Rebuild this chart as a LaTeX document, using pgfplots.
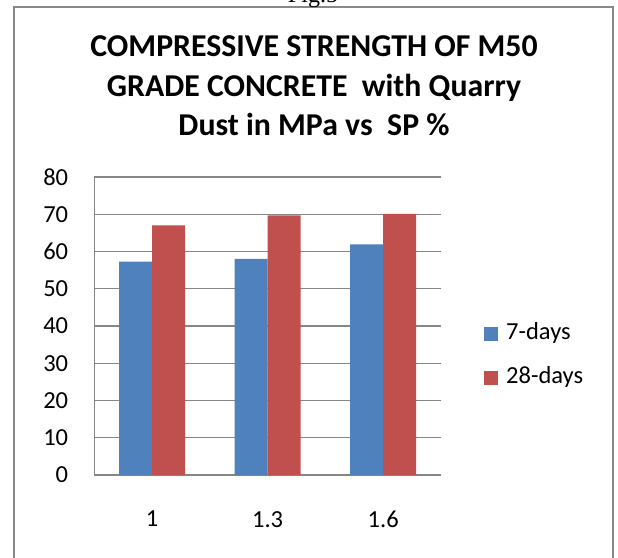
\documentclass[border=0pt]{standalone}
\usepackage{pgfplots}
\pgfplotsset{compat=1.18}
\usepackage{fontspec}
\setmainfont{Carlito}
\newfontfamily\seriffont{Liberation Serif}
\definecolor{barblue}{RGB}{79,129,189}
\definecolor{barred}{RGB}{192,80,77}
\definecolor{gridgray}{RGB}{134,134,134}
\definecolor{bordergray}{RGB}{136,136,136}
\begin{document}
\begin{tikzpicture}[x=1pt,y=1pt]
\clip (0,0) rectangle (618,557);
\fill[white] (0,0) rectangle (618,557);
% outer border (cut at bottom)
\draw[bordergray, line width=2pt] (14,-5) -- (14,549.5) -- (613,549.5) -- (613,-5);
% "Fig.5" caption, mostly cut off at top
\node[anchor=base, inner sep=0pt, font=\seriffont\fontsize{24}{28}\selectfont] at (313,554) {Fig.5};
% title
\node[anchor=base, inner sep=0pt, font=\bfseries\fontsize{31.8}{36}\selectfont] at (314,500) {COMPRESSIVE STRENGTH OF M50};
\node[anchor=base, inner sep=0pt, font=\bfseries\fontsize{31.8}{36}\selectfont] at (314,460) {GRADE CONCRETE\ \ with Quarry};
\node[anchor=base, inner sep=0pt, font=\bfseries\fontsize{31.8}{36}\selectfont] at (314,421) {Dust in MPa vs\ \ SP \%};
\begin{axis}[
  at={(94.3pt,82pt)}, anchor=south west,
  scale only axis, width=346.7pt, height=298pt,
  xmin=0.5, xmax=3.5, ymin=0, ymax=80,
  ytick distance=10,
  xtick={1,2,3}, xticklabels={1,1.3,1.6},
  axis x line*=bottom, axis y line*=left,
  axis line style={gridgray, line width=1.3pt, -},
  ymajorgrids, grid style={gridgray, line width=1.3pt},
  major tick length=0pt,
  tick style={draw=none},
  /pgf/number format/assume math mode=true,
  ticklabel style={font=\fontsize{24.5}{29}\selectfont, text=black},
  yticklabel style={inner sep=0pt, anchor=east, xshift=-26pt},
  xticklabel style={inner sep=0pt, anchor=north, yshift=-36pt},
  ybar=0pt, bar width=33pt,
  legend style={draw=none, fill=none, at={(1.124,0.401)}, anchor=west,
    font=\fontsize{24.5}{29}\selectfont, inner sep=0pt, row sep=22pt,
    nodes={inner sep=0pt, text height=17pt, text depth=5pt}},
  legend cell align=left,
  legend image code/.code={\fill[#1] (0pt,-7pt) rectangle (14pt,7pt); \path (22pt,0pt);},
]
\addplot[fill=barblue, draw=none] coordinates {(1,57.3) (2,58.0) (3,61.9)};
\addplot[fill=barred, draw=none] coordinates {(1,67.0) (2,69.7) (3,70.1)};
\legend{7-days,28-days}
\end{axis}
\end{tikzpicture}
\end{document}
